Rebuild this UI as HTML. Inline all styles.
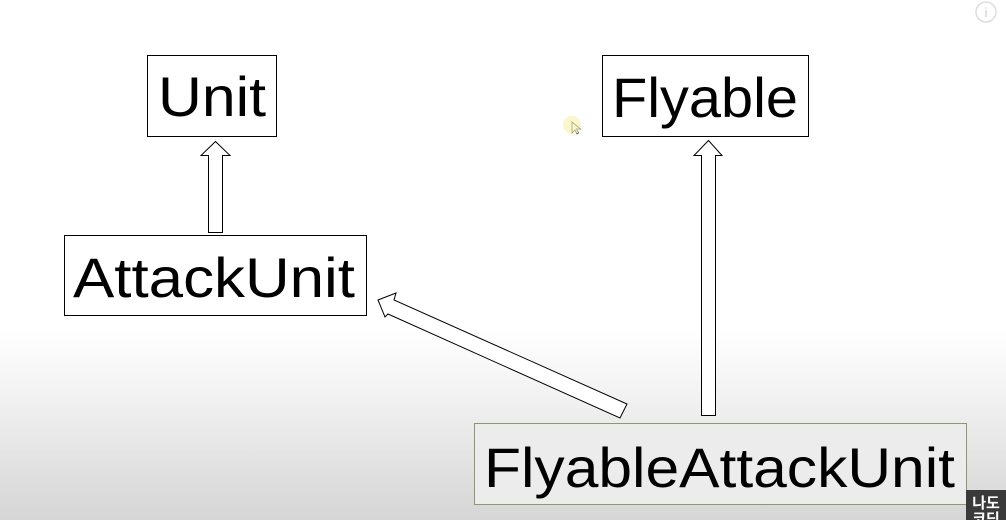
<!DOCTYPE html>
<html><head><meta charset="utf-8"><style>
html,body{margin:0;padding:0;width:1006px;height:520px;overflow:hidden}
body{background:linear-gradient(to bottom,#fff 0px,#fff 330px,#f1f1f1 400px,#dedede 480px,#d6d6d6 520px)}
</style></head><body>
<svg width="1006" height="520" viewBox="0 0 1006 520" xmlns="http://www.w3.org/2000/svg" style="position:absolute;left:0;top:0">
<g font-family="Liberation Sans, sans-serif" font-size="56" fill="#000">
<rect x="147.5" y="55.5" width="129" height="81" fill="#fff" stroke="#000" stroke-width="1"/>
<text x="158" y="116" textLength="108" lengthAdjust="spacingAndGlyphs">Unit</text>
<rect x="602.5" y="55.5" width="206" height="81" fill="#fff" stroke="#000" stroke-width="1"/>
<text x="612" y="117" textLength="186" lengthAdjust="spacingAndGlyphs">Flyable</text>
<rect x="64.5" y="235.5" width="302" height="80" fill="#fff" stroke="#000" stroke-width="1"/>
<text x="73" y="297" textLength="282" lengthAdjust="spacingAndGlyphs">AttackUnit</text>
<rect x="474.5" y="423.5" width="492" height="81" fill="#ececec" stroke="#8a9a70" stroke-width="1"/>
<text x="484" y="487" textLength="471" lengthAdjust="spacingAndGlyphs">FlyableAttackUnit</text>
</g>
<g fill="#fff" stroke="#000" stroke-width="1">
<polygon points="215.5,141.5 230,155.5 222.5,155.5 222.5,232.5 208.5,232.5 208.5,155.5 201,155.5"/>
<polygon points="708.5,140.5 722,155.5 715.5,155.5 715.5,415.5 701.5,415.5 701.5,155.5 694,155.5"/>
<polygon points="378,300 396,293 394,300 627,404 620,418 388,314 385,317"/>
</g>
<circle cx="986" cy="12" r="10" fill="none" stroke="#ddd" stroke-width="1.5"/>
<text x="986" y="17" font-family="Liberation Sans, sans-serif" font-size="13" fill="#ccc" text-anchor="middle">i</text>
<path d="M572,122 l0,11 l3,-3 l2,4 l1.5,-1 l-2,-4 l4,0z" fill="#fff" stroke="#555" stroke-width="0.8"/>
<circle cx="572" cy="125" r="9" fill="#f5f0a0" opacity="0.5"/>
<rect x="966" y="490" width="40" height="30" fill="#3a3a3a"/>
<text x="986" y="508" font-family="Liberation Sans, 'Noto Sans CJK KR', sans-serif" font-size="15" font-weight="bold" fill="#fff" text-anchor="middle">나도</text>
<text x="986" y="524" font-family="Liberation Sans, 'Noto Sans CJK KR', sans-serif" font-size="15" font-weight="bold" fill="#fff" text-anchor="middle">코딩</text>
</svg>
</body></html>
